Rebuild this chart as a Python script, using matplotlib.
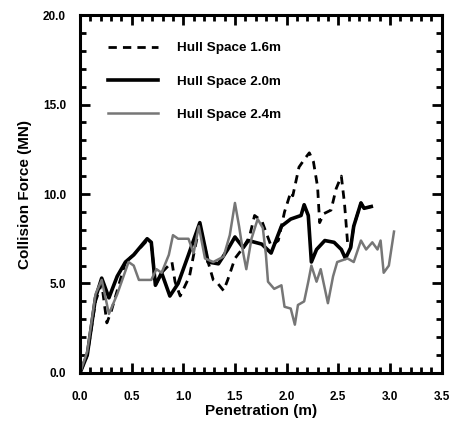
#!/usr/bin/env python3

import matplotlib
matplotlib.use("Agg")
import matplotlib.pyplot as plt
import matplotlib.ticker as tck

# Hull space 1.6 m (dashed)
x16 = [0.0, 0.07, 0.15, 0.21, 0.26, 0.30, 0.44, 0.52, 0.65, 0.69, 0.73, 0.79, 0.89,
       0.92, 0.97, 1.06, 1.11, 1.16, 1.24, 1.29, 1.32, 1.39, 1.43, 1.50, 1.58, 1.64,
       1.69, 1.76, 1.85, 1.92, 1.98, 2.04, 2.06, 2.12, 2.18, 2.22, 2.26, 2.30, 2.32,
       2.36, 2.43, 2.48, 2.53, 2.56, 2.57, 2.59, 2.62, 2.65, 2.72, 2.75, 2.82]
y16 = [0.0, 1.0, 4.0, 5.0, 2.8, 3.4, 6.2, 6.6, 7.4, 7.3, 4.9, 5.6, 6.2,
       5.1, 4.3, 5.4, 6.9, 8.3, 6.2, 5.2, 5.1, 4.6, 5.2, 6.4, 7.0, 7.6,
       8.8, 8.5, 7.1, 7.4, 9.0, 10.1, 9.9, 11.5, 12.0, 12.3, 11.8, 10.4, 8.4,
       8.9, 9.1, 10.3, 11.0, 9.5, 8.8, 7.3, 7.0, 8.2, 9.5, 9.2, 9.3]

# Hull space 2.0 m (thick solid)
x20 = [0.0, 0.07, 0.15, 0.21, 0.28, 0.36, 0.44, 0.52, 0.65, 0.69, 0.73, 0.79, 0.87,
       0.95, 1.05, 1.16, 1.24, 1.34, 1.43, 1.50, 1.58, 1.63, 1.76, 1.85, 1.95, 2.04,
       2.14, 2.17, 2.21, 2.24, 2.29, 2.37, 2.46, 2.53, 2.57, 2.62, 2.65, 2.72, 2.75,
       2.82]
y20 = [0.0, 1.0, 4.2, 5.3, 4.2, 5.4, 6.2, 6.6, 7.5, 7.3, 4.9, 5.6, 4.3,
       5.0, 6.6, 8.4, 6.2, 6.1, 6.9, 7.6, 7.0, 7.4, 7.2, 6.7, 8.2, 8.6,
       8.8, 9.4, 8.8, 6.2, 6.9, 7.4, 7.3, 6.9, 6.4, 7.0, 8.2, 9.5, 9.2,
       9.3]

# Hull space 2.4 m (grey)
x24 = [0.0, 0.07, 0.15, 0.21, 0.28, 0.36, 0.47, 0.52, 0.57, 0.69, 0.74, 0.79, 0.86,
       0.90, 0.95, 1.05, 1.10, 1.15, 1.21, 1.29, 1.39, 1.45, 1.50, 1.54, 1.58, 1.61,
       1.66, 1.72, 1.77, 1.80, 1.82, 1.88, 1.95, 1.98, 2.04, 2.08, 2.11, 2.17, 2.21,
       2.24, 2.29, 2.33, 2.40, 2.45, 2.49, 2.59, 2.65, 2.72, 2.77, 2.83, 2.88, 2.91,
       2.94, 2.99, 3.04]
y24 = [0.0, 1.2, 4.4, 5.2, 3.3, 4.4, 6.2, 6.0, 5.2, 5.2, 5.8, 5.6, 6.6,
       7.7, 7.5, 7.5, 6.7, 8.2, 6.4, 6.2, 6.5, 7.7, 9.5, 8.2, 6.7, 5.8,
       7.5, 8.6, 8.1, 6.6, 5.1, 4.7, 4.9, 3.7, 3.6, 2.7, 3.8, 4.0, 5.1,
       6.0, 5.1, 5.8, 3.9, 5.4, 6.2, 6.4, 6.2, 7.4, 6.9, 7.3, 6.9, 7.4,
       5.6, 6.0, 7.9]

plt.rcParams['font.family'] = ['Liberation Sans', 'DejaVu Sans']
plt.rcParams['font.weight'] = 'bold'

fig = plt.figure(figsize=(4.51, 4.24), dpi=100)
ax = fig.add_axes([0.1774, 0.1203, 0.8016, 0.8443])

ax.plot(x16, y16, color='black', linestyle=(0, (3, 2.2)), linewidth=2.0, label='Hull Space 1.6m')
ax.plot(x20, y20, color='black', linewidth=2.6, label='Hull Space 2.0m')
ax.plot(x24, y24, color='#767676', linewidth=1.8, label='Hull Space 2.4m')

ax.set_xlim(0, 3.5)
ax.set_ylim(0, 20)
ax.xaxis.set_major_locator(tck.MultipleLocator(0.5))
ax.xaxis.set_minor_locator(tck.MultipleLocator(0.1))
ax.yaxis.set_major_locator(tck.MultipleLocator(5))
ax.yaxis.set_minor_locator(tck.MultipleLocator(1))
ax.xaxis.set_major_formatter(tck.FormatStrFormatter('%.1f'))
ax.yaxis.set_major_formatter(tck.FormatStrFormatter('%.1f'))
ax.tick_params(which='both', direction='in', top=True, right=True, labelsize=8.5, width=2)
ax.tick_params(axis='x', which='major', pad=13)
ax.tick_params(axis='y', which='major', pad=10)
ax.tick_params(which='major', length=7)
ax.tick_params(which='minor', length=4)
for s in ax.spines.values():
    s.set_linewidth(2.2)

ax.set_xlabel('Penetration (m)', fontsize=11, fontweight='bold', labelpad=1)
ax.set_ylabel('Collision Force (MN)', fontsize=11, fontweight='bold', labelpad=8)

ax.legend(loc='upper left', bbox_to_anchor=(0.0775, 0.925), frameon=False, fontsize=9.7,
          borderpad=0, borderaxespad=0, handlelength=3.7, handletextpad=1.4,
          labelspacing=1.55)

fig.savefig('out.png', dpi=100)
